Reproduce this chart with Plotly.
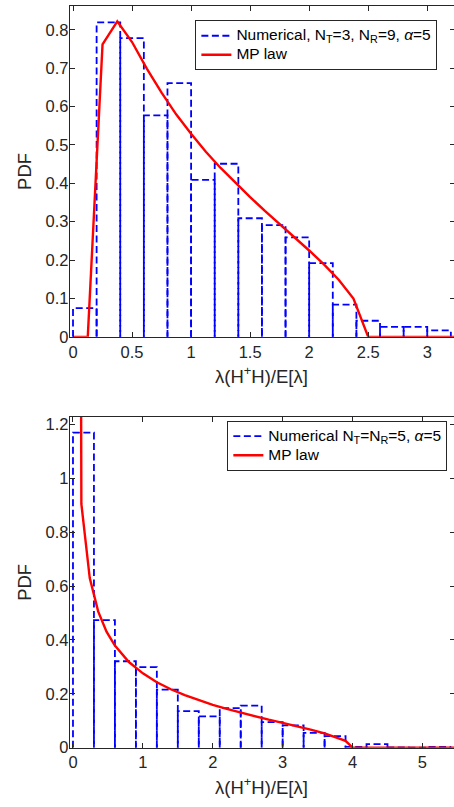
import plotly.graph_objects as go

# ---------------- data ----------------
# Top panel: N_T=3, N_R=9, alpha=5
top_bin_start = 0.0
top_bin_width = 0.2
top_hist = [0.075, 0.819, 0.778, 0.577, 0.661, 0.409, 0.451, 0.309,
            0.291, 0.259, 0.192, 0.084, 0.042, 0.026, 0.026, 0.017]
top_mp_x = [0, 0.125, 0.25, 0.375, 0.5, 0.625, 0.75, 0.875, 1.0, 1.125,
            1.25, 1.375, 1.5, 1.625, 1.75, 1.875, 2.0, 2.125, 2.25, 2.375,
            2.5, 2.625, 2.75, 2.875, 3.0, 3.125, 3.25]
top_mp_y = [0, 0, 0.762, 0.822, 0.768, 0.699, 0.636, 0.579, 0.529, 0.482,
            0.440, 0.401, 0.364, 0.328, 0.294, 0.260, 0.225, 0.189, 0.149,
            0.100, 0, 0, 0, 0, 0, 0, 0]

# Bottom panel: N_T=N_R=5, alpha=5
bot_bin_start = 0.0
bot_bin_width = 0.3
bot_hist = [1.170, 0.474, 0.321, 0.299, 0.216, 0.136, 0.116, 0.147, 0.156,
            0.095, 0.083, 0.055, 0.043, 0.003, 0.013, 0.001, 0.0, 0.003]
bot_mp_x = [0.113, 0.12, 0.24, 0.36, 0.48, 0.6, 0.8, 1.0, 1.2, 1.4, 1.6,
            1.8, 2.0, 2.2, 2.4, 2.6, 2.8, 3.0, 3.2, 3.4, 3.6, 3.8, 3.9,
            4.0, 5.5]
bot_mp_y = [1.6, 0.905, 0.630, 0.506, 0.431, 0.379, 0.318, 0.276, 0.243,
            0.217, 0.195, 0.176, 0.159, 0.144, 0.130, 0.117, 0.104, 0.092,
            0.080, 0.067, 0.053, 0.0365, 0.0255, 0, 0]

top_xticks = [0, 0.5, 1, 1.5, 2, 2.5, 3]
top_xticklabels = ["0", "0.5", "1", "1.5", "2", "2.5", "3"]
top_yticks = [0, 0.1, 0.2, 0.3, 0.4, 0.5, 0.6, 0.7, 0.8]
top_yticklabels = ["0", "0.1", "0.2", "0.3", "0.4", "0.5", "0.6", "0.7", "0.8"]
bot_xticks = [0, 1, 2, 3, 4, 5]
bot_xticklabels = ["0", "1", "2", "3", "4", "5"]
bot_yticks = [0, 0.2, 0.4, 0.6, 0.8, 1.0, 1.2]
bot_yticklabels = ["0", "0.2", "0.4", "0.6", "0.8", "1", "1.2"]

LEG_TXT = '<span style="font-size:15.5px">{}</span>'
top_legend_hist = LEG_TXT.format("Numerical, N<sub>T</sub>=3, N<sub>R</sub>=9, <i>α</i>=5")
bot_legend_hist = LEG_TXT.format("Numerical N<sub>T</sub>=N<sub>R</sub>=5, <i>α</i>=5")
mp_legend = LEG_TXT.format("MP law")
x_title = "λ(H<sup>+</sup>H)/E[λ]"
y_title = "PDF"


def outline(start, width, heights):
    xs, ys = [], []
    for i, h in enumerate(heights):
        left = start + i * width
        right = left + width
        xs += [left, left, right, right, None]
        ys += [0, h, h, 0, None]
    return xs, ys


# figure is 2 px wider than the window so the right frame line falls just outside
W, H = 456, 807
FONT = "Liberation Sans, Arial, Helvetica, sans-serif"
AX = "#262626"
BLUE = "#0000ff"
RED = "#ff0000"
HIST_LINE = dict(color=BLUE, width=1.8, dash="7px,3.5px")
MP_LINE = dict(color=RED, width=2.4)

fig = go.Figure()

hx, hy = outline(top_bin_start, top_bin_width, top_hist)
fig.add_trace(go.Scatter(x=hx, y=hy, mode="lines", name=top_legend_hist,
                         line=HIST_LINE, xaxis="x", yaxis="y", legend="legend"))
fig.add_trace(go.Scatter(x=top_mp_x, y=top_mp_y, mode="lines", name=mp_legend,
                         line=MP_LINE, xaxis="x", yaxis="y", legend="legend"))

hx, hy = outline(bot_bin_start, bot_bin_width, bot_hist)
fig.add_trace(go.Scatter(x=hx, y=hy, mode="lines", name=bot_legend_hist,
                         line=HIST_LINE, xaxis="x2", yaxis="y2", legend="legend2"))
fig.add_trace(go.Scatter(x=bot_mp_x, y=bot_mp_y, mode="lines", name=mp_legend,
                         line=MP_LINE, xaxis="x2", yaxis="y2", legend="legend2"))


def axis_style(**kw):
    d = dict(showline=True, linecolor=AX, linewidth=1, mirror="ticks",
             ticks="inside", ticklen=5, tickcolor=AX, tickwidth=1,
             tickfont=dict(family=FONT, size=16.5, color=AX),
             showgrid=False, zeroline=False, fixedrange=True)
    d.update(kw)
    return d


def px_x(p):
    return p / W


def px_y(p):
    return 1 - p / H


xdom = [px_x(69), 1.0]
top_dom = [px_y(339.5), px_y(4)]
bot_dom = [px_y(756), px_y(420.7)]

title_font = dict(family=FONT, size=18.5, color=AX)
leg_font = dict(family=FONT, size=11, color="black")

fig.update_layout(
    width=W, height=H,
    margin=dict(l=0, r=0, t=0, b=0),
    paper_bgcolor="white", plot_bgcolor="white",
    xaxis=axis_style(domain=xdom, anchor="y", range=[-0.028, 3.235],
                     tickvals=top_xticks, ticktext=top_xticklabels),
    yaxis=axis_style(domain=top_dom, anchor="x", range=[0, 0.862],
                     tickvals=top_yticks, ticktext=top_yticklabels,
                     ticklabelstandoff=-3,
                     title=dict(text=y_title, font=title_font, standoff=8)),
    xaxis2=axis_style(domain=xdom, anchor="y2", range=[-0.047, 5.466],
                      tickvals=bot_xticks, ticktext=bot_xticklabels),
    yaxis2=axis_style(domain=bot_dom, anchor="x2", range=[0, 1.228],
                      tickvals=bot_yticks, ticktext=bot_yticklabels,
                      ticklabelstandoff=-3,
                      title=dict(text=y_title, font=title_font, standoff=8)),
    legend=dict(x=px_x(438.3), y=px_y(18.5), xanchor="right", yanchor="top",
                bgcolor="white", bordercolor=AX, borderwidth=1,
                font=leg_font, itemwidth=30, tracegroupgap=0),
    legend2=dict(x=px_x(448.3), y=px_y(424.5), xanchor="right", yanchor="top",
                 bgcolor="white", bordercolor=AX, borderwidth=1,
                 font=leg_font, itemwidth=30, tracegroupgap=0),
    showlegend=True,
)

# x-axis titles (placed under each panel)
x_center = px_x((69 + 455) / 2)
for ypix in (378, 795):
    fig.add_annotation(text=x_title, xref="paper", yref="paper",
                       x=x_center, y=px_y(ypix), xanchor="center",
                       yanchor="middle", showarrow=False, font=title_font)

# remove the default page margin so the figure sits at the window's corner
fig.write_html(
    "out.html",
    config={"displayModeBar": False},
    post_script="document.body.style.margin='0';document.body.style.overflow='hidden';",
)
